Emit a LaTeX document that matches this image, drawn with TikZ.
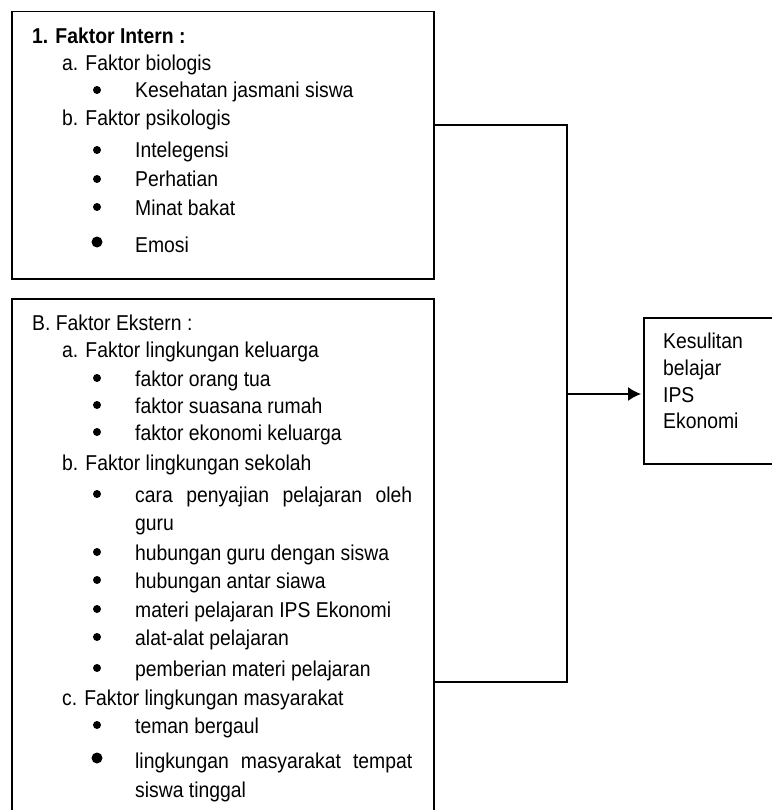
\documentclass[tikz,border=0pt]{standalone}
\usepackage{fontspec}
\setmainfont{Liberation Sans}[FakeStretch=0.9]
\usetikzlibrary{arrows.meta}
\tikzset{
  box/.style={draw, line width=1.5pt, rectangle, inner sep=0pt, anchor=north west},
  txt/.style={anchor=base west, inner sep=0pt, font=\fontsize{21.5}{25}\selectfont},
  bul/.style={circle, fill=black, inner sep=0pt, minimum size=8pt},
  bigbul/.style={circle, fill=black, inner sep=0pt, minimum size=11pt},
  conn/.style={line width=1.5pt},
}
\begin{document}
\begin{tikzpicture}[x=1pt,y=-1pt]
\useasboundingbox (0,0) rectangle (771,810);
% boxes
\node[box, minimum width=422pt, minimum height=267pt] (b1) at (11,11) {};
\node[box, minimum width=422pt, minimum height=514pt] (b2) at (11,298) {};
\node[box, minimum width=134pt, minimum height=146pt] (res) at (643,317) {};
% box 1 text
\node[txt, font=\fontsize{21.5}{25}\selectfont\bfseries] (t1) at (32,44) {1. Faktor Intern :};
\node[txt] (t2) at (62,71) {a. Faktor biologis};
\node[bul] (u3) at (97,90) {};
\node[txt] (t3) at (135,98) {Kesehatan jasmani siswa};
\node[txt] (t4) at (62,126) {b. Faktor psikologis};
\node[bul] (u5) at (97,150) {};
\node[txt] (t5) at (135,158) {Intelegensi};
\node[bul] (u6) at (97,179) {};
\node[txt] (t6) at (135,187) {Perhatian};
\node[bul] (u7) at (97,207) {};
\node[txt] (t7) at (135,215) {Minat bakat};
\node[bigbul] (u8) at (97,242) {};
\node[txt] (t8) at (135,252) {Emosi};
% box 2 text
\node[txt] (s1) at (32,330) {B. Faktor Ekstern :};
\node[txt] (s2) at (62,357) {a. Faktor lingkungan keluarga};
\node[bul] (v3) at (97,378) {};
\node[txt] (s3) at (135,386) {faktor orang tua};
\node[bul] (v4) at (97,405) {};
\node[txt] (s4) at (135,413) {faktor suasana rumah};
\node[bul] (v5) at (97,432) {};
\node[txt] (s5) at (135,440) {faktor ekonomi keluarga};
\node[txt] (s6) at (62,470) {b. Faktor lingkungan sekolah};
\node[bul] (v7) at (97,494) {};
\node[txt] (s7) at (135,502) {\makebox[277pt][s]{cara\hfill penyajian\hfill pelajaran\hfill oleh}};
\node[txt] (s8) at (135,530) {guru};
\node[bul] (v9) at (97,552) {};
\node[txt] (s9) at (135,560) {hubungan guru dengan siswa};
\node[bul] (v10) at (97,580) {};
\node[txt] (s10) at (135,588) {hubungan antar siawa};
\node[bul] (v11) at (97,609) {};
\node[txt] (s11) at (135,617) {materi pelajaran IPS Ekonomi};
\node[bul] (v12) at (97,637) {};
\node[txt] (s12) at (135,645) {alat-alat pelajaran};
\node[bul] (v13) at (97,668) {};
\node[txt] (s13) at (135,676) {pemberian materi pelajaran};
\node[txt] (s14) at (62,705) {c. Faktor lingkungan masyarakat};
\node[bul] (v15) at (97,725) {};
\node[txt] (s15) at (135,733) {teman bergaul};
\node[bigbul] (v16) at (97,758) {};
\node[txt] (s16) at (135,768) {\makebox[277pt][s]{lingkungan\hfill masyarakat\hfill tempat}};
\node[txt] (s17) at (135,797) {siswa tinggal};
% result text
\node[txt] (r1) at (663,348) {Kesulitan};
\node[txt] (r2) at (663,375) {belajar};
\node[txt] (r3) at (663,402) {IPS};
\node[txt] (r4) at (663,428) {Ekonomi};
% connectors
\coordinate (j1) at (567,125);
\coordinate (j2) at (567,682);
\coordinate (j3) at (567,394);
\draw[conn] (b1.east |- j1) -- (j1) -- (j2) -- (b2.east |- j2);
\draw[conn, -{Latex[length=13pt,width=14pt]}] (j3) -- ([xshift=-2pt]res.west |- j3);
\end{tikzpicture}
\end{document}
